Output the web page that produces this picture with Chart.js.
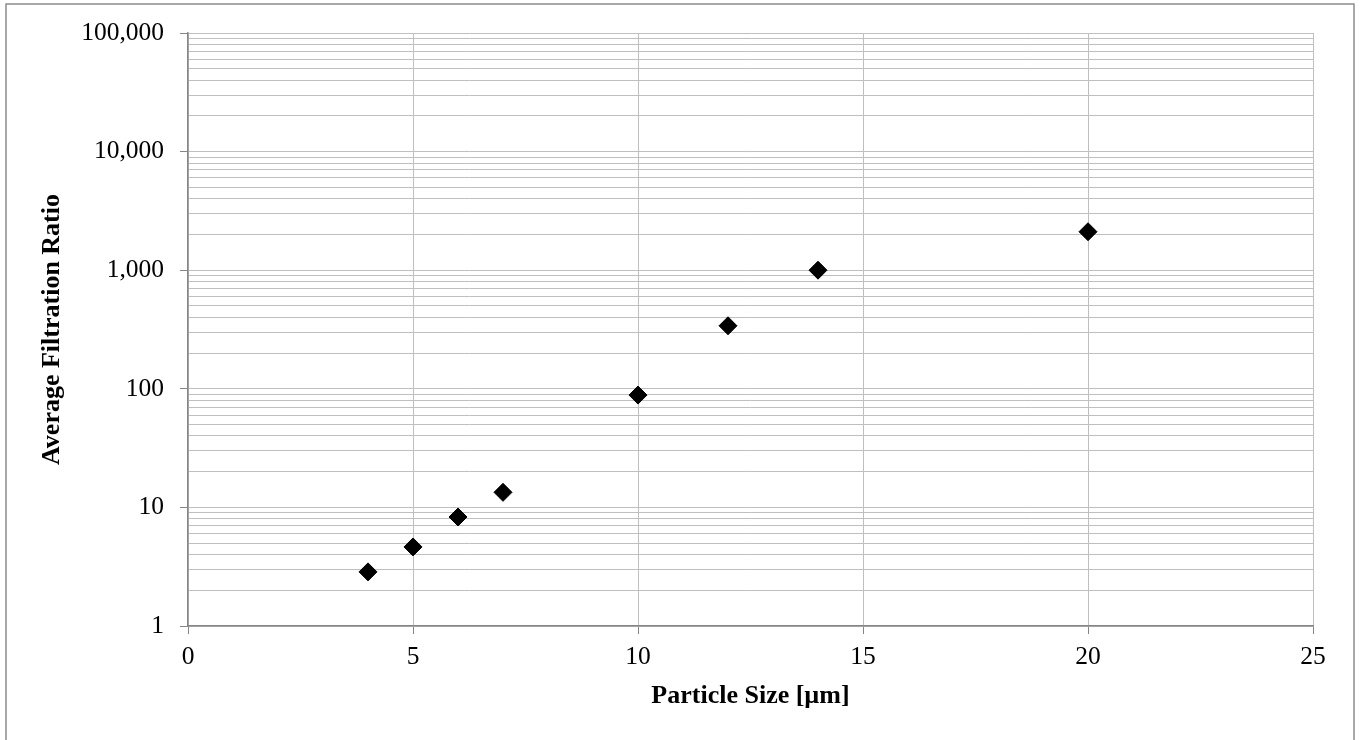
<!DOCTYPE html>
<html>
<head>
<meta charset="utf-8">
<script src="https://cdn.jsdelivr.net/npm/chart.js@4/dist/chart.umd.min.js"></script>
<style>
  html, body { margin: 0; padding: 0; background: #ffffff; }
  #wrap { position: relative; width: 1362px; height: 740px; }
</style>
</head>
<body>
<div id="wrap"><canvas id="c" width="1362" height="740"></canvas></div>
<script>
// ---- data ----
const particleSizes = [4, 5, 6, 7, 10, 12, 14, 20];
const filtrationRatios = [2.86, 4.64, 8.3, 13.4, 88.5, 340, 1000, 2110];
const xTickValues = [0, 5, 10, 15, 20, 25];
const yDecades = [1, 10, 100, 1000, 10000, 100000];
const xTitle = 'Particle Size [µm]';
const yTitle = 'Average Filtration Ratio';

const GRID = '#bfbfbf';
const AXIS = '#868686';
const FONT = '"Liberation Serif", "Times New Roman", serif';

const points = particleSizes.map((x, i) => ({ x: x, y: filtrationRatios[i] }));

const isDecade = v => yDecades.includes(v);

const frame = {
  id: 'frame',
  beforeDraw(chart) {
    const ctx = chart.ctx;
    ctx.save();
    ctx.fillStyle = '#ffffff';
    ctx.fillRect(0, 0, chart.width, chart.height);
    ctx.strokeStyle = '#8c8c8c';
    ctx.lineWidth = 1.5;
    ctx.strokeRect(6, 4, 1348, 760);
    ctx.restore();
  }
};

new Chart(document.getElementById('c'), {
  type: 'scatter',
  data: {
    datasets: [{
      label: 'Average Filtration Ratio',
      data: points,
      pointStyle: 'rectRot',
      pointRadius: 9,
      pointHoverRadius: 9,
      backgroundColor: '#000000',
      borderColor: '#000000',
      borderWidth: 1
    }]
  },
  options: {
    responsive: false,
    animation: false,
    events: [],
    layout: { padding: { top: 33, right: 49, left: 0, bottom: 0 } },
    plugins: {
      legend: { display: false },
      tooltip: { enabled: false }
    },
    scales: {
      x: {
        type: 'linear',
        min: xTickValues[0],
        max: xTickValues[xTickValues.length - 1],
        afterBuildTicks: s => { s.ticks = xTickValues.map(v => ({ value: v })); },
        afterFit: s => { s.height = 114; },
        grid: {
          color: GRID,
          lineWidth: 1,
          tickLength: 8,
          tickColor: AXIS,
          drawTicks: true
        },
        border: { color: AXIS, width: 1.5 },
        ticks: {
          color: '#000000',
          font: { family: FONT, size: 25.5 },
          padding: 8,
          maxRotation: 0,
          autoSkip: false
        },
        title: {
          display: true,
          text: xTitle,
          color: '#000000',
          font: { family: FONT, size: 26, weight: 'bold' },
          padding: { top: 0, bottom: 28 }
        }
      },
      y: {
        type: 'logarithmic',
        min: yDecades[0],
        max: yDecades[yDecades.length - 1],
        afterBuildTicks: s => {
          const t = [];
          for (let d = 0; d < yDecades.length - 1; d++) {
            for (let m = 1; m <= 9; m++) t.push({ value: m * yDecades[d] });
          }
          t.push({ value: yDecades[yDecades.length - 1] });
          s.ticks = t;
        },
        afterFit: s => { s.width = 188; },
        grid: {
          color: GRID,
          lineWidth: 1,
          tickLength: 8,
          tickColor: ctx => (ctx.tick && isDecade(ctx.tick.value)) ? AXIS : 'rgba(0,0,0,0)',
          drawTicks: true
        },
        border: { color: AXIS, width: 1.5 },
        ticks: {
          color: '#000000',
          font: { family: FONT, size: 25.5 },
          padding: 16,
          autoSkip: false,
          callback: v => isDecade(v) ? v.toLocaleString('en-US') : ''
        },
        title: {
          display: true,
          text: yTitle,
          color: '#000000',
          font: { family: FONT, size: 26, weight: 'bold' },
          padding: { top: 37, bottom: 0 }
        }
      }
    }
  },
  plugins: [frame]
});
</script>
</body>
</html>
